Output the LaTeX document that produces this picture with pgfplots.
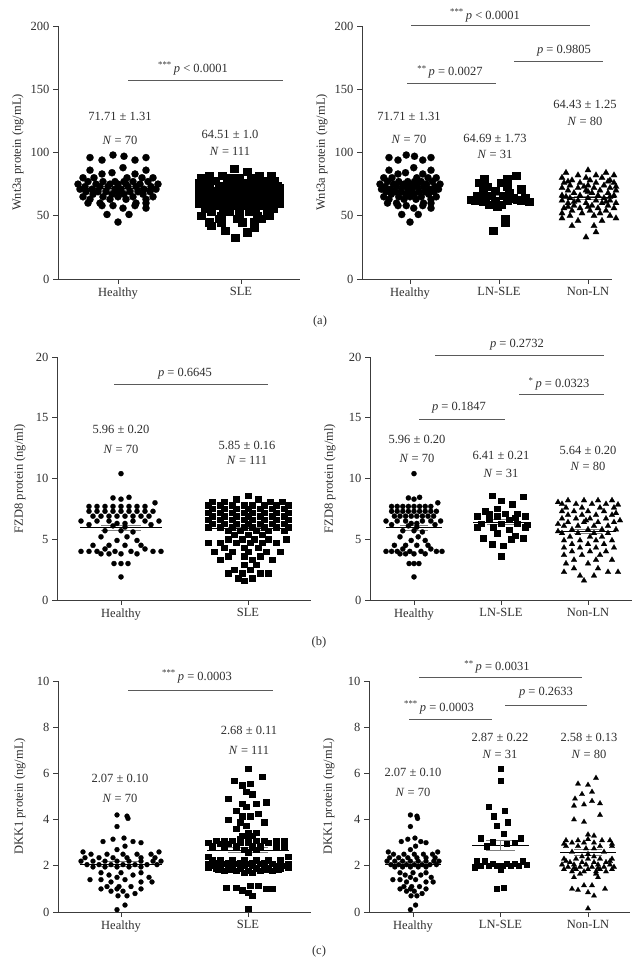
\documentclass[border=0pt]{standalone}
\usepackage{fontspec}
\setmainfont{Liberation Serif}
\usepackage{pgfplots}
\usepackage{pgfplotstable}
\pgfplotsset{compat=1.18}
\definecolor{axgray}{HTML}{3C3C3C}
\definecolor{txt}{HTML}{2E2E2E}
\definecolor{bargray}{HTML}{5A5A5A}
\definecolor{semgray}{HTML}{808080}
\newcommand{\fs}{\fontsize{12.5}{15}\selectfont}
\pgfplotsset{
  base/.style={
    scale only axis, enlargelimits=false, clip=false, anchor=south west,
    axis x line*=bottom, axis y line*=left,
    axis line style={axgray, line width=0.7pt, -},
    tick align=outside, major tick length=5pt,
    tick style={axgray, line width=0.7pt},
    font=\fs,
    tick label style={font=\fs, text=txt},
    /pgf/number format/assume math mode=true,
  },
  dot/.style={only marks, mark=*, mark options={fill=black, draw=black, line width=0.2pt}},
  sq/.style={only marks, mark=square*, mark options={fill=black, draw=black, line width=0.2pt}},
  tri/.style={only marks, mark=triangle*, mark options={fill=black, draw=black, line width=0.2pt}},
  meanl/.style={black, line width=0.9pt, no marks},
  seml/.style={semgray, line width=0.8pt, no marks},
  sigl/.style={bargray, line width=0.8pt, no marks},
}
% ---------------- Row (a): Wnt3a ----------------
\pgfplotstableread[row sep=\\]{d v\\
-5 98\\ 6 97\\ -28 96\\ 28 96\\ -16 94\\ 17 94\\ 5 88\\ -28 86\\ 28 86\\ -16 83\\ -6 84\\ 17 83\\
-35 80\\ -24 80\\ 9 80\\ 24 80\\ 35 80\\ -30 77\\ -15 77\\ -3 77\\ 6 77\\ 15 77\\ 30 77\\
-40 75\\ -22 75\\ -8 75\\ 0 75\\ 8 75\\ 22 75\\ 40 75\\ -33 73\\ -18 73\\ -10 73\\ 10 73\\ 18 73\\ 33 73\\
-38 71\\ -26 71\\ -3 71\\ 3 71\\ 26 71\\ 38 71\\ -32 69\\ -20 69\\ -12 69\\ 0 69\\ 12 69\\ 20 69\\ 32 69\\
-25 67\\ -6 67\\ 6 67\\ 25 67\\ -35 65\\ -15 65\\ 0 65\\ 15 65\\ 35 65\\ -28 63\\ -8 63\\ 8 63\\ 28 63\\
-30 60\\ -18 60\\ 18 60\\ 28 60\\ -16 58\\ -5 58\\ 17 58\\ 5 56\\ 28 56\\ -11 51\\ 11 51\\ 0 45\\
}\HA
\pgfplotstableread[row sep=\\]{d v\\
-5 87\\ 8 85\\ -30 82\\ -17 82\\ 20 82\\ 32 82\\ -38 80\\ -8 80\\ 0 80\\ 12 80\\ -24 78\\ -12 78\\ 25 78\\ 35 78\\
-40 76\\ -32 76\\ -4 76\\ 4 76\\ 16 76\\ 30 76\\ -20 74\\ -10 74\\ 0 74\\ 10 74\\ 20 74\\ 38 74\\ -30 74\\
-40 72\\ -30 72\\ -15 72\\ -5 72\\ 5 72\\ 15 72\\ 28 72\\ 40 72\\ -35 70\\ -25 70\\ -10 70\\ 0 70\\ 10 70\\ 25 70\\ 35 70\\
-40 68\\ -30 68\\ -20 68\\ -5 68\\ 5 68\\ 20 68\\ 30 68\\ 40 68\\ -36 66\\ -24 66\\ -12 66\\ 0 66\\ 12 66\\ 24 66\\ 36 66\\
-40 64\\ -28 64\\ -16 64\\ -4 64\\ 4 64\\ 16 64\\ 28 64\\ 40 64\\ -32 62\\ -20 62\\ -8 62\\ 8 62\\ 20 62\\ 32 62\\
-40 60\\ -28 60\\ -14 60\\ 0 60\\ 14 60\\ 28 60\\ 40 60\\ -24 58\\ -8 58\\ 8 58\\ 24 58\\
-34 56\\ -16 56\\ 0 56\\ 16 56\\ 34 56\\ -28 53\\ -10 53\\ 10 53\\ 28 53\\ -38 50\\ -18 50\\ 0 50\\ 18 50\\ 30 50\\
-20 48\\ -2 48\\ 22 48\\ -30 45\\ -18 45\\ 3 45\\ 15 45\\ -28 42\\ 15 41\\ -14 38\\ 8 37\\ -4 33\\
}\SA
\pgfplotstableread[row sep=\\]{d v\\
17 82\\ -15 79\\ 8 79\\ -20 76\\ 2 76\\ -12 73\\ 8 73\\ 22 71\\ -16 70\\ -4 70\\ 10 68\\ -22 66\\ -8 66\\ 4 66\\
-14 64\\ 14 64\\ 26 64\\ -28 63\\ 18 63\\ -24 62\\ -4 62\\ 8 62\\ 22 62\\ -16 61\\ 30 61\\ -10 59\\ 2 59\\ -2 57\\
6 48\\ 6 45\\ -6 38\\
}\LA
\pgfplotstableread[row sep=\\]{d v\\
0 86\\ -22 84\\ 18 84\\ -10 82\\ 8 82\\ 26 82\\ -26 80\\ -2 80\\ 14 80\\ -16 78\\ 2 78\\ 22 78\\ -20 77\\ 20 77\\
-24 76\\ -8 76\\ 8 76\\ 26 76\\ -18 74\\ 0 74\\ 16 74\\ -4 73\\ 28 73\\ -26 72\\ -10 72\\ 6 72\\ 22 72\\
-20 70\\ -2 70\\ 12 70\\ 28 70\\ 0 69\\ -14 68\\ 4 68\\ 20 68\\ -26 66\\ -8 66\\ 10 66\\ 26 66\\ -22 65\\ 22 65\\
-18 64\\ 0 64\\ 16 64\\ -26 62\\ -10 62\\ 8 62\\ 22 62\\ -14 61\\ 18 61\\ -20 60\\ -2 60\\ 14 60\\ 28 60\\
-14 58\\ 4 58\\ 20 58\\ -20 57\\ 0 57\\ -24 56\\ -8 56\\ 10 56\\ 26 56\\ -16 54\\ 2 54\\ 18 54\\
-26 52\\ -6 52\\ 12 52\\ -18 50\\ 6 50\\ 22 50\\ -26 48\\ 28 48\\ -10 46\\ 14 46\\ -16 42\\ 6 42\\ 8 37\\ -2 33\\
}\NA
% ---------------- Row (b): FZD8 ----------------
\pgfplotstableread[row sep=\\]{d v\\
0 10.4\\ -8 8.4\\ 0 8.3\\ 8 8.45\\ 34 8.0\\
-32 7.7\\ -24 7.7\\ -16 7.7\\ -8 7.7\\ 0 7.7\\ 8 7.7\\ 16 7.7\\ 24 7.7\\
-32 7.3\\ -24 7.3\\ -16 7.3\\ -8 7.3\\ 0 7.3\\ 8 7.3\\ 16 7.3\\ 24 7.3\\ 32 7.3\\
-28 6.9\\ -20 6.9\\ -12 6.9\\ -4 6.9\\ 4 6.9\\ 12 6.9\\ 20 6.9\\ 28 6.9\\
-40 6.5\\ -24 6.5\\ -12 6.5\\ 12 6.5\\ 24 6.5\\ 38 6.5\\ -4 6.3\\ 4 6.3\\ 30 6.2\\ -32 6.2\\
-8 6.1\\ 4 6.0\\ -16 5.7\\ 0 5.7\\ 12 5.6\\ -20 5.2\\ 6 5.2\\ -4 4.9\\ 16 4.9\\
-28 4.5\\ -12 4.5\\ 4 4.5\\ 20 4.5\\ -16 4.2\\ 24 4.2\\
-40 4.0\\ -32 4.0\\ -24 4.0\\ -6 4.0\\ 10 4.0\\ 32 4.0\\ 40 4.0\\ -20 3.8\\ -12 3.8\\ 0 3.8\\ 16 3.8\\
-7 3.0\\ 0 3.0\\ 7 3.0\\ 0 1.9\\
}\HB
\pgfplotstableread[row sep=\\]{d v\\
0 8.6\\ -12 8.3\\ 10 8.3\\ -36 8.1\\ -24 8.1\\ 22 8.1\\ 34 8.1\\
-40 7.8\\ -28 7.8\\ -16 7.8\\ -4 7.8\\ 4 7.8\\ 16 7.8\\ 28 7.8\\ 40 7.8\\
-36 7.5\\ -24 7.5\\ -12 7.5\\ 0 7.5\\ 12 7.5\\ 24 7.5\\ 36 7.5\\
-40 7.2\\ -28 7.2\\ -16 7.2\\ -4 7.2\\ 4 7.2\\ 16 7.2\\ 28 7.2\\ 40 7.2\\
-36 6.9\\ -24 6.9\\ -12 6.9\\ 0 6.9\\ 12 6.9\\ 24 6.9\\ 36 6.9\\
-40 6.6\\ -28 6.6\\ -16 6.6\\ -4 6.6\\ 4 6.6\\ 16 6.6\\ 28 6.6\\ 40 6.6\\
-36 6.3\\ -24 6.3\\ -12 6.3\\ 0 6.3\\ 12 6.3\\ 24 6.3\\ 36 6.3\\
-40 6.0\\ -28 6.0\\ -16 6.0\\ -4 6.0\\ 4 6.0\\ 16 6.0\\ 28 6.0\\ 40 6.0\\
-20 5.7\\ -8 5.7\\ 8 5.7\\ 20 5.7\\ 36 5.7\\ -14 5.4\\ 0 5.4\\ 14 5.4\\
-20 5.0\\ -6 5.0\\ 6 5.0\\ 20 5.0\\ 38 5.0\\ -40 4.7\\ -28 4.7\\ -12 4.7\\ 2 4.7\\ 14 4.7\\ 28 4.7\\
-24 4.3\\ -4 4.3\\ 10 4.3\\ -34 4.0\\ -16 4.0\\ 0 4.0\\ 18 4.0\\ 32 4.0\\ -20 3.6\\ -4 3.6\\ 12 3.6\\
-28 3.3\\ 4 3.3\\ 24 3.3\\ -4 2.9\\ 8 2.9\\ -14 2.5\\ 2 2.5\\ -20 2.2\\ -6 2.2\\ 12 2.2\\ 20 2.2\\
-10 1.8\\ 4 1.8\\ -4 1.6\\
}\SB
\pgfplotstableread[row sep=\\]{d v\\
-9 8.6\\ 22 8.5\\ 0 8.2\\ 11 7.9\\ -4 7.5\\ -16 7.3\\ -12 7.1\\ 4 7.1\\ 16 7.1\\ -24 6.9\\ -4 6.9\\ 24 6.9\\
14 6.8\\ -12 6.6\\ 8 6.6\\ -20 6.3\\ 0 6.3\\ 16 6.3\\ 26 6.2\\ -24 6.0\\ -8 6.0\\ 24 6.0\\ 8 5.8\\ -4 5.5\\
14 5.3\\ -18 5.1\\ 22 5.1\\ 10 5.0\\ -9 4.6\\ 2 4.5\\ 0 3.6\\
}\LB
\pgfplotstableread[row sep=\\]{d v\\
-20 8.2\\ -4 8.2\\ 10 8.2\\ 24 8.2\\ -26 7.9\\ -12 7.9\\ 4 7.9\\ 18 7.9\\
-22 7.6\\ -6 7.6\\ 12 7.6\\ 26 7.6\\ -26 7.3\\ -14 7.3\\ 0 7.3\\ 16 7.3\\
-20 7.0\\ -6 7.0\\ 8 7.0\\ 24 7.0\\ -26 6.7\\ -12 6.7\\ 2 6.7\\ 18 6.7\\
-20 6.4\\ -4 6.4\\ 10 6.4\\ 26 6.4\\ -24 6.1\\ -10 6.1\\ 6 6.1\\ 20 6.1\\
-16 5.8\\ 0 5.8\\ 14 5.8\\ 28 5.8\\ -26 5.5\\ -10 5.5\\ 6 5.5\\ 20 5.5\\
-18 5.2\\ 2 5.2\\ 14 5.2\\ -24 4.9\\ -8 4.9\\ 8 4.9\\ 24 4.9\\ -16 4.6\\ 0 4.6\\ 16 4.6\\
-24 4.3\\ -8 4.3\\ 8 4.3\\ 26 4.3\\ -16 4.0\\ 2 4.0\\ 18 4.0\\ -24 3.7\\ -6 3.7\\ 12 3.7\\
-14 3.3\\ 8 3.3\\ 24 3.3\\ -22 3.0\\ 0 3.0\\ -14 2.6\\ 10 2.6\\ -24 2.3\\ 20 2.3\\ 30 2.3\\
-8 2.0\\ 6 2.0\\ -4 1.6\\
28 7.15\\ -30 6.25\\ 30 7.85\\ -30 8.05\\ 32 6.55\\ -2 6.55\\ -30 5.65\\
}\NB
% ---------------- Row (c): DKK1 ----------------
\pgfplotstableread[row sep=\\]{d v\\
-4 4.2\\ 6 4.15\\ 7 4.05\\ -4 3.7\\ 3 3.2\\ -8 3.15\\ -18 3.05\\ 12 3.05\\ 20 3.0\\ 4 2.85\\ -4 2.7\\ -38 2.6\\ 38 2.6\\
-30 2.5\\ -14 2.5\\ 2 2.5\\ 16 2.5\\ 30 2.5\\ -36 2.35\\ -22 2.35\\ -8 2.35\\ 6 2.35\\ 20 2.35\\ 34 2.35\\
-40 2.2\\ -28 2.2\\ -16 2.2\\ -4 2.2\\ 8 2.2\\ 20 2.2\\ 32 2.2\\ 40 2.2\\
-34 2.05\\ -22 2.05\\ -10 2.05\\ 2 2.05\\ 14 2.05\\ 26 2.05\\ 36 2.05\\
-28 1.95\\ -16 1.95\\ -4 1.95\\ 8 1.95\\ 20 1.95\\ -20 1.7\\ 0 1.7\\ 20 1.7\\ -12 1.6\\ 12 1.6\\ -4 1.5\\ 28 1.5\\
-31 1.4\\ -20 1.4\\ 4 1.4\\ -10 1.3\\ 20 1.3\\ 31 1.3\\ -14 1.1\\ -2 1.1\\ 10 1.1\\ -20 1.0\\ -4 1.0\\ 20 1.0\\
-10 0.9\\ 2 0.9\\ 14 0.8\\ -3 0.7\\ 6 0.7\\ 4 0.3\\ -4 0.1\\
}\HC
\pgfplotstableread[row sep=\\]{d v\\
0 6.2\\ 14 5.85\\ -14 5.7\\ 2 5.55\\ -6 5.5\\ -2 5.2\\ 4 5.1\\ -20 4.9\\ 18 4.75\\ -6 4.7\\ 8 4.7\\ -2 4.55\\
-12 4.4\\ 10 4.25\\ -6 4.15\\ 2 4.15\\ -20 4.0\\ -8 3.9\\ 16 3.9\\ -2 3.75\\ -12 3.6\\ 0 3.45\\ 8 3.45\\ -6 3.3\\ 4 3.3\\ -8 3.15\\ 0 3.15\\
-32 3.1\\ -24 3.1\\ -16 3.1\\ 8 3.1\\ 16 3.1\\ 28 3.1\\ 36 3.1\\ -40 3.0\\ -8 3.0\\ 0 3.0\\ 20 3.0\\
-28 2.95\\ -20 2.95\\ 28 2.95\\ 36 2.95\\ -36 2.85\\ -24 2.85\\ -12 2.85\\ 4 2.85\\ 12 2.85\\ 28 2.85\\ 36 2.85\\
-4 2.7\\ 8 2.7\\ 0 2.6\\ -40 2.4\\ 40 2.4\\
-36 2.25\\ -28 2.25\\ -16 2.25\\ -4 2.25\\ 8 2.25\\ 20 2.25\\ 32 2.25\\
-32 2.15\\ -20 2.15\\ -8 2.15\\ 4 2.15\\ 16 2.15\\ 32 2.15\\
-40 2.1\\ -24 2.1\\ -12 2.1\\ 0 2.1\\ 12 2.1\\ 24 2.1\\ 40 2.1\\
-36 2.0\\ -28 2.0\\ -16 2.0\\ -4 2.0\\ 4 2.0\\ 16 2.0\\ 28 2.0\\ 36 2.0\\ -40 1.95\\ 40 1.95\\
-32 1.9\\ -20 1.9\\ -8 1.9\\ 8 1.9\\ 20 1.9\\ 32 1.9\\ -30 1.85\\ 30 1.85\\ -18 1.85\\ 18 1.85\\
-24 1.8\\ -12 1.8\\ 0 1.8\\ 12 1.8\\ 24 1.8\\ -4 1.7\\ 4 1.7\\
-22 1.05\\ -12 1.05\\ 2 1.15\\ 10 1.15\\ 18 1.0\\ 24 1.0\\ -6 0.95\\ 0 0.85\\ 4 0.7\\ 0 0.15\\
}\SC
\pgfplotstableread[row sep=\\]{d v\\
0 6.2\\ 0 5.7\\ -12 4.55\\ 4 4.4\\ -7 4.15\\ 7 3.9\\ -4 3.75\\ 3 3.4\\ -20 3.2\\ 20 3.2\\ -8 3.05\\ 6 2.95\\ 14 3.0\\ -14 2.85\\
-24 2.2\\ -16 2.2\\ 22 2.2\\ -8 2.1\\ 6 2.1\\ 14 2.1\\ -20 2.0\\ -12 2.0\\ -4 2.0\\ 2 2.0\\ 10 2.0\\ 18 2.0\\ 26 2.05\\ -26 1.95\\
0 1.85\\ -4 1.0\\ 3 1.05\\
}\LC
\pgfplotstableread[row sep=\\]{d v\\
8 5.8\\ -10 5.55\\ 0 5.5\\ 4 5.2\\ -6 5.1\\ -13 4.9\\ 4 4.8\\ 12 4.7\\ -4 4.65\\ -14 4.6\\ 12 4.2\\ -14 4.0\\ -4 3.9\\ 0 3.35\\ 6 3.3\\ 0 3.15\\
-22 3.1\\ -10 3.1\\ 14 3.1\\ 22 3.1\\ -16 3.0\\ -4 3.0\\ 6 3.0\\ -24 2.95\\ 24 2.95\\
-22 2.85\\ -10 2.85\\ 12 2.85\\ 24 2.85\\ -2 2.75\\ 6 2.75\\ -16 2.6\\ 16 2.6\\ 0 2.5\\ -6 2.4\\ 6 2.4\\
-24 2.3\\ -12 2.3\\ 0 2.3\\ 12 2.3\\ 24 2.3\\ -22 2.2\\ 22 2.2\\ -18 2.15\\ -6 2.15\\ 6 2.15\\ 18 2.15\\
-26 2.05\\ -14 2.05\\ -2 2.05\\ 10 2.05\\ 22 2.05\\ -20 1.95\\ -8 1.95\\ 4 1.95\\ 16 1.95\\ 26 1.95\\ -14 1.9\\ 10 1.9\\
-24 1.85\\ -12 1.85\\ 0 1.85\\ 12 1.85\\ 24 1.85\\ -16 1.75\\ -4 1.75\\ 8 1.75\\ 18 1.75\\ -8 1.65\\ 8 1.65\\
-14 1.5\\ 10 1.5\\ -4 1.15\\ 4 1.15\\ -16 1.0\\ 17 1.0\\ -10 0.95\\ 0 0.85\\ 6 0.7\\ 0 0.15\\
}\NC
\begin{document}
\begin{tikzpicture}[font=\fs]
\path[use as bounding box] (0,0) rectangle (644pt,979pt);
% ================= (a) left =================
\begin{axis}[base, at={(58pt,700pt)}, width=242pt, height=253pt,
  xmin=58, xmax=300, ymin=0, ymax=200, ytick={0,50,100,150,200},
  xtick={118,241}, xticklabels={Healthy,SLE}]
\addplot[dot, mark size=3.6pt] table[x expr=\thisrow{d}+118, y=v] {\HA};
\addplot[sq, mark size=3.6pt] table[x expr=\thisrow{d}+239, y=v] {\SA};
\addplot[meanl] coordinates {(79,71.71) (157,71.71)};
\addplot[seml] coordinates {(100,70.40) (136,70.40)};
\addplot[seml] coordinates {(100,73.02) (136,73.02)};
\addplot[seml] coordinates {(118,70.40) (118,73.02)};
\addplot[meanl] coordinates {(199,64.51) (279,64.51)};
\addplot[seml] coordinates {(221,63.51) (257,63.51)};
\addplot[seml] coordinates {(221,65.51) (257,65.51)};
\addplot[sigl] coordinates {(128,156.6) (283,156.6)};
\node[text=txt] at (axis cs:193,166.4) {\textsuperscript{***}\,\textit{p} < 0.0001};
\node[text=txt] at (axis cs:120,128.7) {71.71 ± 1.31};
\node[text=txt] at (axis cs:120,109.7) {\textit{N} = 70};
\node[text=txt] at (axis cs:230,114.3) {64.51 ± 1.0};
\node[text=txt] at (axis cs:230,100.6) {\textit{N} = 111};
\end{axis}
% ================= (a) right =================
\begin{axis}[base, at={(362pt,700pt)}, width=250pt, height=253pt,
  xmin=362, xmax=612, ymin=0, ymax=200, ytick={0,50,100,150,200},
  xtick={410,499,588}, xticklabels={Healthy,LN-SLE,Non-LN}]
\addplot[dot, mark size=3.6pt] table[x expr=\thisrow{d}*0.75+410, y=v] {\HA};
\addplot[sq, mark size=3.6pt] table[x expr=\thisrow{d}+499, y=v] {\LA};
\addplot[tri, mark size=3.6pt] table[x expr=\thisrow{d}+588, y=v] {\NA};
\addplot[meanl] coordinates {(380,71.71) (440,71.71)};
\addplot[seml] coordinates {(396,70.40) (424,70.40)};
\addplot[seml] coordinates {(396,73.02) (424,73.02)};
\addplot[meanl] coordinates {(471,64.69) (527,64.69)};
\addplot[seml] coordinates {(485,62.96) (513,62.96)};
\addplot[seml] coordinates {(485,66.42) (513,66.42)};
\addplot[meanl] coordinates {(560,64.43) (616,64.43)};
\addplot[seml] coordinates {(574,63.18) (602,63.18)};
\addplot[seml] coordinates {(574,65.68) (602,65.68)};
\addplot[sigl] coordinates {(411,200.3) (590,200.3)};
\addplot[sigl] coordinates {(514,172) (603,172)};
\addplot[sigl] coordinates {(407,155) (496,155)};
\node[text=txt] at (axis cs:485,208.4) {\textsuperscript{***}\,\textit{p} < 0.0001};
\node[text=txt] at (axis cs:564,180.8) {\textit{p} = 0.9805};
\node[text=txt] at (axis cs:450,163.7) {\textsuperscript{**}\,\textit{p} = 0.0027};
\node[text=txt] at (axis cs:409,128.7) {71.71 ± 1.31};
\node[text=txt] at (axis cs:409,110.3) {\textit{N} = 70};
\node[text=txt] at (axis cs:495,111.4) {64.69 ± 1.73};
\node[text=txt] at (axis cs:495,98.5) {\textit{N} = 31};
\node[text=txt] at (axis cs:585,138) {64.43 ± 1.25};
\node[text=txt] at (axis cs:585,124.2) {\textit{N} = 80};
\end{axis}
% ================= (b) left =================
\begin{axis}[base, at={(57pt,379pt)}, width=254pt, height=243pt,
  xmin=57, xmax=311, ymin=0, ymax=20, ytick={0,5,10,15,20},
  xtick={121,248}, xticklabels={Healthy,SLE}]
\addplot[dot, mark size=2.6pt] table[x expr=\thisrow{d}+121, y=v] {\HB};
\addplot[sq, mark size=2.7pt] table[x expr=\thisrow{d}+248, y=v] {\SB};
\addplot[meanl] coordinates {(80,5.96) (162,5.96)};
\addplot[seml] coordinates {(101,5.76) (141,5.76)};
\addplot[seml] coordinates {(101,6.16) (141,6.16)};
\addplot[meanl] coordinates {(207,5.85) (289,5.85)};
\addplot[seml] coordinates {(228,5.69) (268,5.69)};
\addplot[seml] coordinates {(228,6.01) (268,6.01)};
\addplot[sigl] coordinates {(114,17.75) (268,17.75)};
\node[text=txt] at (axis cs:185,18.6) {\textit{p} = 0.6645};
\node[text=txt] at (axis cs:121,14.0) {5.96 ± 0.20};
\node[text=txt] at (axis cs:121,12.4) {\textit{N} = 70};
\node[text=txt] at (axis cs:247,12.7) {5.85 ± 0.16};
\node[text=txt] at (axis cs:247,11.46) {\textit{N} = 111};
\end{axis}
% ================= (b) right =================
\begin{axis}[base, at={(370pt,379pt)}, width=262pt, height=243pt,
  xmin=370, xmax=632, ymin=0, ymax=20, ytick={0,5,10,15,20},
  xtick={414,501,588}, xticklabels={Healthy,LN-SLE,Non-LN}]
\addplot[dot, mark size=2.6pt] table[x expr=\thisrow{d}*0.7+414, y=v] {\HB};
\addplot[sq, mark size=2.7pt] table[x expr=\thisrow{d}+501, y=v] {\LB};
\addplot[tri, mark size=3.3pt] table[x expr=\thisrow{d}+588, y=v] {\NB};
\addplot[meanl] coordinates {(386,5.96) (442,5.96)};
\addplot[seml] coordinates {(400,5.76) (428,5.76)};
\addplot[seml] coordinates {(400,6.16) (428,6.16)};
\addplot[meanl] coordinates {(473,6.41) (529,6.41)};
\addplot[seml] coordinates {(487,6.20) (515,6.20)};
\addplot[seml] coordinates {(487,6.62) (515,6.62)};
\addplot[meanl] coordinates {(560,5.64) (616,5.64)};
\addplot[seml] coordinates {(574,5.44) (602,5.44)};
\addplot[seml] coordinates {(574,5.84) (602,5.84)};
\addplot[sigl] coordinates {(435,20.16) (604,20.16)};
\addplot[sigl] coordinates {(519,16.93) (604,16.93)};
\addplot[sigl] coordinates {(419,14.9) (505,14.9)};
\node[text=txt] at (axis cs:517,21.0) {\textit{p} = 0.2732};
\node[text=txt] at (axis cs:559,17.8) {\textsuperscript{*}\,\textit{p} = 0.0323};
\node[text=txt] at (axis cs:459,15.8) {\textit{p} = 0.1847};
\node[text=txt] at (axis cs:417,13.2) {5.96 ± 0.20};
\node[text=txt] at (axis cs:417,11.66) {\textit{N} = 70};
\node[text=txt] at (axis cs:501,11.9) {6.41 ± 0.21};
\node[text=txt] at (axis cs:501,10.4) {\textit{N} = 31};
\node[text=txt] at (axis cs:588,12.3) {5.64 ± 0.20};
\node[text=txt] at (axis cs:588,11.0) {\textit{N} = 80};
\end{axis}
% ================= (c) left =================
\begin{axis}[base, at={(58pt,67pt)}, width=253pt, height=231pt,
  xmin=58, xmax=311, ymin=0, ymax=10, ytick={0,2,4,6,8,10},
  xtick={121,248}, xticklabels={Healthy,SLE}]
\addplot[dot, mark size=2.5pt] table[x expr=\thisrow{d}+121, y=v] {\HC};
\addplot[sq, mark size=2.7pt] table[x expr=\thisrow{d}+248, y=v] {\SC};
\addplot[meanl] coordinates {(80,2.07) (162,2.07)};
\addplot[seml] coordinates {(101,1.97) (141,1.97)};
\addplot[seml] coordinates {(101,2.17) (141,2.17)};
\addplot[meanl] coordinates {(207,2.68) (289,2.68)};
\addplot[seml] coordinates {(228,2.57) (268,2.57)};
\addplot[seml] coordinates {(228,2.79) (268,2.79)};
\addplot[sigl] coordinates {(128,9.58) (273,9.58)};
\node[text=txt] at (axis cs:197,10.19) {\textsuperscript{***}\,\textit{p} = 0.0003};
\node[text=txt] at (axis cs:120,5.79) {2.07 ± 0.10};
\node[text=txt] at (axis cs:120,4.92) {\textit{N} = 70};
\node[text=txt] at (axis cs:249,7.88) {2.68 ± 0.11};
\node[text=txt] at (axis cs:249,7.01) {\textit{N} = 111};
\end{axis}
% ================= (c) right =================
\begin{axis}[base, at={(369pt,67pt)}, width=261pt, height=231pt,
  xmin=369, xmax=630, ymin=0, ymax=10, ytick={0,2,4,6,8,10},
  xtick={413,500.5,588}, xticklabels={Healthy,LN-SLE,Non-LN}]
\addplot[dot, mark size=2.5pt] table[x expr=\thisrow{d}*0.65+413, y=v] {\HC};
\addplot[sq, mark size=2.7pt] table[x expr=\thisrow{d}+500.5, y=v] {\LC};
\addplot[tri, mark size=3.1pt] table[x expr=\thisrow{d}+588, y=v] {\NC};
\addplot[meanl] coordinates {(385,2.07) (441,2.07)};
\addplot[seml] coordinates {(399,1.97) (427,1.97)};
\addplot[seml] coordinates {(399,2.17) (427,2.17)};
\addplot[meanl] coordinates {(472,2.87) (529,2.87)};
\addplot[seml] coordinates {(486,2.65) (515,2.65)};
\addplot[seml] coordinates {(486,3.09) (515,3.09)};
\addplot[seml] coordinates {(500.5,2.65) (500.5,3.09)};
\addplot[meanl] coordinates {(560,2.58) (616,2.58)};
\addplot[seml] coordinates {(574,2.45) (602,2.45)};
\addplot[seml] coordinates {(574,2.71) (602,2.71)};
\addplot[sigl] coordinates {(419,10.16) (582,10.16)};
\addplot[sigl] coordinates {(505,8.96) (587,8.96)};
\addplot[sigl] coordinates {(409,8.35) (492,8.35)};
\node[text=txt] at (axis cs:497,10.62) {\textsuperscript{**}\,\textit{p} = 0.0031};
\node[text=txt] at (axis cs:546,9.49) {\textit{p} = 0.2633};
\node[text=txt] at (axis cs:439,8.86) {\textsuperscript{***}\,\textit{p} = 0.0003};
\node[text=txt] at (axis cs:413,6.03) {2.07 ± 0.10};
\node[text=txt] at (axis cs:413,5.16) {\textit{N} = 70};
\node[text=txt] at (axis cs:500,7.55) {2.87 ± 0.22};
\node[text=txt] at (axis cs:500,6.84) {\textit{N} = 31};
\node[text=txt] at (axis cs:589,7.55) {2.58 ± 0.13};
\node[text=txt] at (axis cs:589,6.84) {\textit{N} = 80};
\end{axis}
% ================= y labels and panel tags =================
\node[rotate=90, text=txt] at (18pt,826.5pt) {Wnt3a protein (ng/mL)};
\node[rotate=90, text=txt] at (322pt,826.5pt) {Wnt3a protein (ng/mL)};
\node[rotate=90, text=txt] at (20pt,500.5pt) {FZD8 protein (ng/ml)};
\node[rotate=90, text=txt] at (330pt,500.5pt) {FZD8 protein (ng/ml)};
\node[rotate=90, text=txt] at (20pt,182.5pt) {DKK1 protein (ng/mL)};
\node[rotate=90, text=txt] at (329pt,182.5pt) {DKK1 protein (ng/mL)};
\node[text=txt] at (320pt,657pt) {(a)};
\node[text=txt] at (319pt,337pt) {(b)};
\node[text=txt] at (319pt,28pt) {(c)};
\end{tikzpicture}
\end{document}
